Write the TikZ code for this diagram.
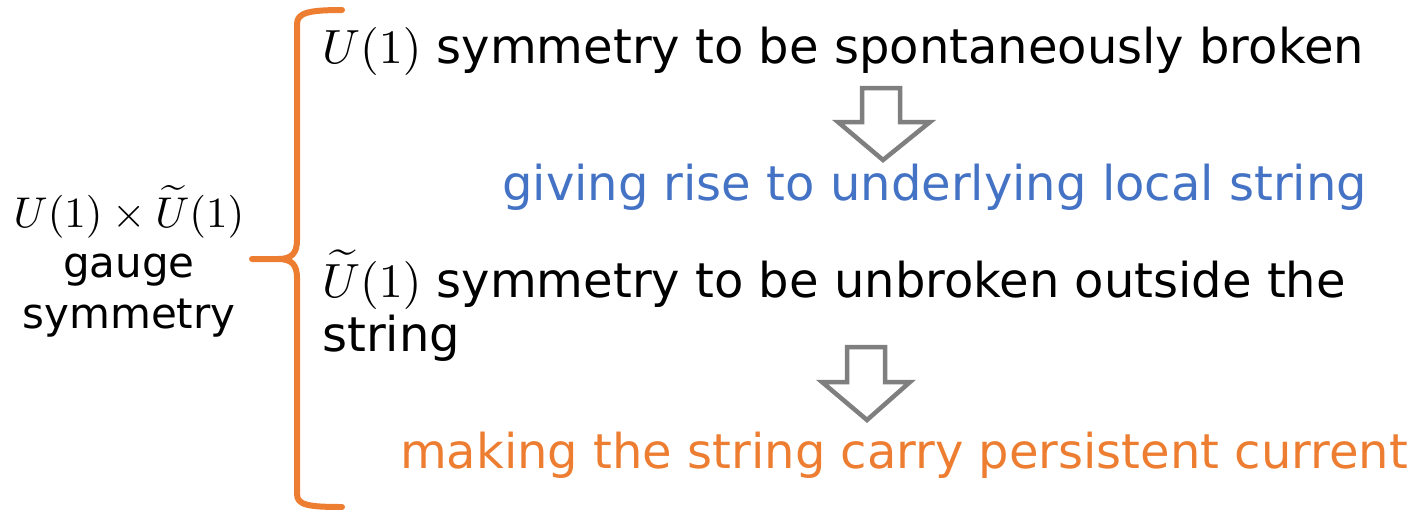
\documentclass[tikz,border=0pt]{standalone}
\usepackage{graphicx}
\usepackage[no-math]{fontspec}
\setmainfont{DejaVu Sans}
\definecolor{accentorange}{HTML}{ED7D31}
\definecolor{accentblue}{HTML}{4472C4}
\definecolor{arrowgray}{HTML}{7F7F7F}
% math set at 10pt and enlarged to sit with the large sans text
\newcommand{\bigmath}[2]{\scalebox{#1}{\fontsize{10}{12}\selectfont$#2$}}
\tikzset{
  maintext/.style={anchor=base west, inner sep=0pt, font=\fontsize{48}{55}\selectfont},
  sidetext/.style={anchor=base, inner sep=0pt, font=\fontsize{42}{50}\selectfont},
  bracket/.style={draw=accentorange, line width=6pt, line cap=round, line join=round},
  blockarrow/.style={draw=arrowgray, fill=white, line width=4.5pt, line join=miter},
}
\begin{document}
\begin{tikzpicture}[x=1pt,y=-1pt]
\useasboundingbox (0,0) rectangle (1418,509);

% label on the left
\node[sidetext] (group) at (129,227) {\bigmath{4.3}{U(1)\times\widetilde{U}(1)}};
\node[sidetext] (gauge) at (129,277) {gauge};
\node[sidetext] (sym) at (129,328) {symmetry};

% curly bracket
\coordinate (tip) at (252,259);
\draw[bracket] (342,10) .. controls (308,10) and (297,13) .. (297,24)
  -- (297,240) .. controls (297,253) and (292,259) .. (278,259) -- (tip)
  (278,259) .. controls (292,259) and (297,265) .. (297,278)
  -- (297,494) .. controls (297,505) and (308,507) .. (342,507);

% statements
\node[maintext] (s1) at (322,63) {\bigmath{4.8}{U(1)} symmetry to be spontaneously broken};
\node[maintext, text=accentblue] (r1) at (502,200) {giving rise to underlying local string};
\node[maintext] (s2a) at (322,297) {\bigmath{4.8}{\widetilde{U}(1)} symmetry to be unbroken outside the};
\node[maintext] (s2b) at (322,351) {string};
\node[maintext, text=accentorange] (r2) at (400,468) {making the string carry persistent current};

% hollow down arrows
\draw[blockarrow] (862,88) -- (900,88) -- (900,122) -- (930,122) -- (883,160)
  -- (838,122) -- (862,122) -- cycle;
\draw[blockarrow] (847,347) -- (885,347) -- (885,382) -- (910,382) -- (867,420)
  -- (822,382) -- (847,382) -- cycle;
\end{tikzpicture}
\end{document}
